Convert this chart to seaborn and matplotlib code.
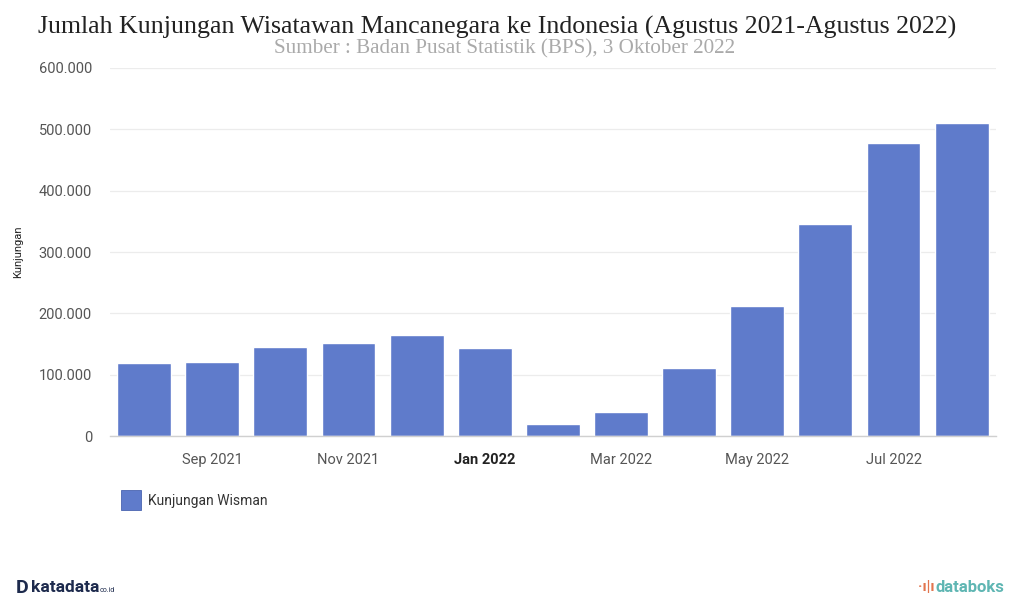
import matplotlib
matplotlib.use("Agg")
import matplotlib.pyplot as plt
import seaborn as sns
import pandas as pd
from matplotlib.ticker import FuncFormatter, FixedLocator
from matplotlib.patches import Rectangle

months = ["Aug 2021", "Sep 2021", "Oct 2021", "Nov 2021", "Dec 2021", "Jan 2022",
          "Feb 2022", "Mar 2022", "Apr 2022", "May 2022", "Jun 2022", "Jul 2022", "Aug 2022"]
visits = [119000, 120800, 145600, 151200, 164800, 143500,
          19000, 39500, 111000, 212500, 345500, 477500, 510500]
yticks = [0, 100000, 200000, 300000, 400000, 500000, 600000]
series_name = "Kunjungan Wisman"

df = pd.DataFrame({"bulan": months, "kunjungan": visits})

sns.set_theme(style="white")
plt.rcParams["font.family"] = ["Roboto", "DejaVu Sans"]

fig = plt.figure(figsize=(10.15, 5.99), dpi=100)
ax = fig.add_axes([0.1084, 0.272, 0.8726, 0.6145])

bar_color = "#5f7bcb"
sns.barplot(data=df, x="bulan", y="kunjungan", color=bar_color, width=0.79,
            saturation=1, ax=ax)

ax.set_xlim(-0.5, len(months) - 0.5)
ax.set_ylim(0, 600000)
ax.yaxis.set_major_locator(FixedLocator(yticks))
ax.yaxis.set_major_formatter(FuncFormatter(lambda v, p: f"{int(v):,}".replace(",", ".")))
ax.grid(axis="y", color="#ececec", linewidth=0.9)
ax.set_axisbelow(True)
for s in ["top", "right", "left"]:
    ax.spines[s].set_visible(False)
ax.spines["bottom"].set_color("#d0d0d0")
ax.spines["bottom"].set_linewidth(1.0)

tick_idx = [1, 3, 5, 7, 9, 11]
ax.set_xticks(tick_idx)
ax.set_xticklabels([months[i] for i in tick_idx])
for lab in ax.get_xticklabels():
    if lab.get_text() == "Jan 2022":
        lab.set_fontweight("bold")
        lab.set_color("#222222")
    else:
        lab.set_color("#555555")
ax.tick_params(axis="x", length=0, pad=12, labelsize=10.5)
ax.tick_params(axis="y", length=0, pad=13, labelsize=10.5, labelcolor="#555555")

ax.set_xlabel("")
ax.set_ylabel("Kunjungan", fontsize=8, color="#222222", labelpad=4)
ax.yaxis.set_label_coords(-0.098, 0.5)

fig.text(0.49, 0.955, "Jumlah Kunjungan Wisatawan Mancanegara ke Indonesia (Agustus 2021-Agustus 2022)",
         ha="center", va="center", fontsize=18.6, color="#222222",
         family=["Liberation Serif", "DejaVu Serif"])
fig.text(0.497, 0.919, "Sumber : Badan Pusat Statistik (BPS), 3 Oktober 2022",
         ha="center", va="center", fontsize=15.2, color="#aaaaaa",
         family=["Liberation Serif", "DejaVu Serif"])

# legend
fig.patches.append(Rectangle((121 / 1015, 1 - 510 / 599), 20 / 1015, 20 / 599,
                             transform=fig.transFigure, facecolor=bar_color,
                             edgecolor="#4a64b0", linewidth=0.6))
fig.text(148 / 1015, 1 - 501 / 599, series_name, ha="left", va="center",
         fontsize=10, color="#333333")

# footer logos as text
fig.text(16 / 1015, 1 - 588 / 599, "D", ha="left", va="center", fontsize=14,
         fontweight="bold", color="#1d2a4d")
fig.text(31 / 1015, 1 - 588 / 599, "katadata", ha="left", va="center", fontsize=12.5,
         fontweight="bold", color="#1d2a4d")
fig.text(100 / 1015, 1 - 591 / 599, "co.id", ha="left", va="center", fontsize=5,
         color="#1d2a4d")
fig.text(918 / 1015, 1 - 587 / 599, "·ı|ı", ha="left", va="center", fontsize=11,
         fontweight="bold", color="#e2754e")
fig.text(936 / 1015, 1 - 587 / 599, "databoks", ha="left", va="center", fontsize=12,
         fontweight="bold", color="#5fb6b3")

fig.savefig("out.png", dpi=100, facecolor="white")
